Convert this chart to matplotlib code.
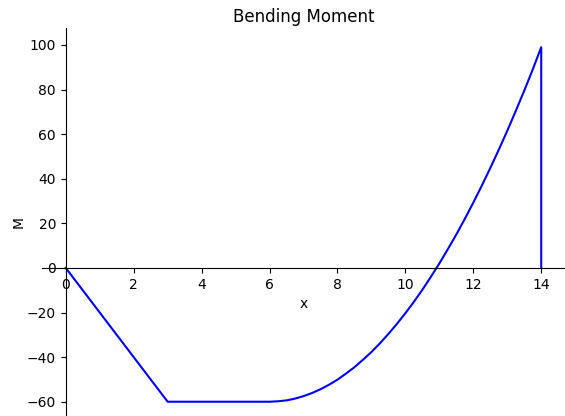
import matplotlib
matplotlib.use("Agg")
import matplotlib.pyplot as plt

# bending moment
x_vals = [0, 3, 6, 6.25, 6.5, 6.75, 7, 7.25, 7.5, 7.75, 8, 8.25, 8.5, 8.75,
          9, 9.25, 9.5, 9.75, 10, 10.25, 10.5, 10.75, 11, 11.25, 11.5, 11.75,
          12, 12.25, 12.5, 12.75, 13, 13.25, 13.5, 13.75, 14, 14]
m_vals = [0, -60, -60, -59.8, -59.4, -58.6, -57.5, -56.1, -54.4, -52.4,
          -50.1, -47.4, -44.5, -41.2, -37.7, -33.8, -29.6, -25.1, -20.3,
          -15.2, -9.8, -4.0, 2.0, 8.4, 15.0, 22.0, 29.3, 36.9, 44.8, 53.0,
          61.5, 70.4, 79.5, 89.0, 99.0, 0]

fig = plt.figure(figsize=(5.65, 4.16), dpi=100)
ax = fig.add_axes([42 / 565, 0, 523 / 565, 388 / 416])

ax.plot(x_vals, m_vals, color="blue", linewidth=1.5)

ax.spines["left"].set_position("zero")
ax.spines["bottom"].set_position("zero")
ax.spines["right"].set_visible(False)
ax.spines["top"].set_visible(False)
ax.xaxis.set_ticks_position("bottom")
ax.yaxis.set_ticks_position("left")

ax.set_xlim(-0.7, 14.7)
ax.set_ylim(-66.4, 107.6)
ax.set_xticks([0, 2, 4, 6, 8, 10, 12, 14])
ax.set_yticks([-60, -40, -20, 0, 20, 40, 60, 80, 100])

ax.set_title("Bending Moment", pad=4.5)
ax.set_xlabel("x")
ax.set_ylabel("M", labelpad=1)

fig.savefig("out.png", dpi=100)
